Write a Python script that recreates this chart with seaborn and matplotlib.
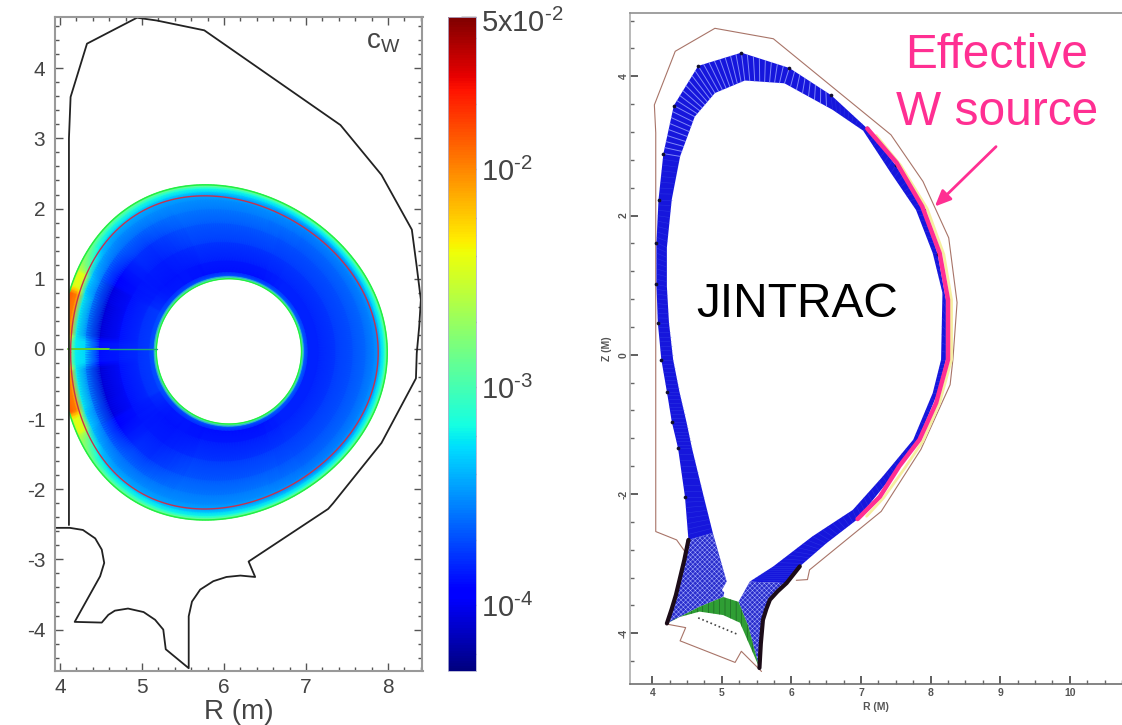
import matplotlib
matplotlib.use("Agg")
import matplotlib.pyplot as plt
from matplotlib.colors import LogNorm
from matplotlib.patches import Rectangle
from matplotlib.transforms import ScaledTranslation
import numpy as np
import seaborn as sns

# left panel: vessel wall
wall_r = [4.11, 4.11, 4.13, 4.33, 4.61, 4.94, 5.18, 5.76, 7.42, 7.92, 8.29, 8.35, 8.40, 8.38, 8.35, 8.34,
          7.92, 7.33, 7.27, 6.30, 6.38, 6.20, 6.03, 5.87, 5.71, 5.61, 5.57, 5.57, 5.29, 5.26, 5.16, 5.02, 4.83,
          4.67, 4.59, 4.51, 4.18, 4.49, 4.54, 4.51, 4.43, 4.28, 4.12, 3.94]
wall_z = [-2.51, 3.00, 3.59, 4.35, 4.52, 4.72, 4.68, 4.54, 3.19, 2.48, 1.70, 1.17, 0.70, 0.32, -0.06, -0.42,
          -1.34, -2.20, -2.28, -3.03, -3.25, -3.23, -3.25, -3.31, -3.43, -3.60, -3.81, -4.55, -4.28, -4.00, -3.86, -3.75, -3.70,
          -3.73, -3.79, -3.90, -3.89, -3.24, -3.05, -2.86, -2.70, -2.58, -2.55, -2.55]

# flux surface shape: R0, a, kappa, Z0, delta
hole_shape = [6.06, 0.885, 1.17, -0.035, 0.0]
edge_shape = [6.0, 1.99, 1.2, -0.05, 0.115]
sep_shape = [6.005, 1.875, 1.19, -0.05, 0.13]

# W concentration along minor radius, for each poloidal sector
rho_stations = [0, 0.012, 0.035, 0.08, 0.2, 0.4, 0.6, 0.75, 0.85, 0.9, 0.93, 0.965, 0.985, 1.0]
c_outboard = [1.5e-3, 1.2e-3, 2.5e-4, 1.5e-4, 1.5e-4, 1.75e-4, 2.05e-4, 2.4e-4, 2.9e-4, 3.3e-4, 5e-4, 7e-4, 1.1e-3, 1.5e-3]
c_crown = [1.5e-3, 1.2e-3, 2.3e-4, 1.3e-4, 1.4e-4, 1.75e-4, 2.2e-4, 2.7e-4, 3.2e-4, 3.6e-4, 5e-4, 7e-4, 1.1e-3, 1.5e-3]
c_shoulder = [1.5e-3, 1.2e-3, 2.2e-4, 1.4e-4, 1.35e-4, 1.45e-4, 1.7e-4, 2.4e-4, 3.2e-4, 3.8e-4, 5.5e-4, 8e-4, 1.1e-3, 1.5e-3]
c_inboard = [1.5e-3, 1.2e-3, 2.2e-4, 1.7e-4, 1.5e-4, 1.3e-4, 1.0e-4, 2.4e-4, 4.5e-4, 6e-4, 9e-4, 1.2e-3, 1.4e-3, 1.6e-3]
c_yellow = [1.5e-3, 1.2e-3, 2.2e-4, 1.8e-4, 1.6e-4, 1.3e-4, 9e-5, 2.8e-4, 5e-4, 3e-3, 3.6e-3, 3.8e-3, 3.4e-3, 3.0e-3]
c_hot = [1.5e-3, 1.2e-3, 2.2e-4, 1.8e-4, 1.6e-4, 1.3e-4, 8.5e-5, 3e-4, 6e-4, 7e-3, 1.1e-2, 1.2e-2, 1.3e-2, 1.3e-2]
c_midplane = [1.5e-3, 1.2e-3, 2.2e-4, 1.8e-4, 1.6e-4, 1.4e-4, 1.3e-4, 5e-4, 6e-4, 1.8e-3, 3e-3, 3e-3, 3.5e-3, 4e-3]
sector_edges = [0, 60, 115, 143, 150, 158, 175]
sector_values = [c_outboard, c_crown, c_shoulder, c_inboard, c_yellow, c_hot, c_midplane]

spike_r = [4.10, 4.30, 4.60]
spike_z = [0.0, 0.0, 0.0]
spike_end_r = [4.60, 5.18]
spike_end_z = [0.0, 0.0]

cbar_labels = {1e-4: r"$\mathregular{10^{\text{-}4}}$", 1e-3: r"$\mathregular{10^{\text{-}3}}$",
               1e-2: r"$\mathregular{10^{\text{-}2}}$", 5e-2: r"$\mathregular{5x10^{\text{-}2}}$"}
cbar_dark = [4e-2, 2e-2, 6e-3, 4e-3, 2e-3, 6e-4, 4e-4, 2e-4, 6e-5]
cbar_faint = [3e-2, 8e-3, 5e-3, 3e-3, 8e-4, 5e-4, 3e-4]

# right panel: wall pieces
wall2_r = [4.50, 4.35, 4.05, 4.05, 4.03, 4.33, 4.90, 5.74, 7.43, 7.89, 8.26, 8.38, 8.32, 8.28, 7.86, 7.29, 6.26, 6.23, 6.07]
wall2_z = [-2.87, -2.66, -2.54, 3.19, 3.59, 4.36, 4.69, 4.54, 3.16, 2.49, 1.68, 0.75, -0.07, -0.43, -1.36, -2.25, -3.09, -3.23, -3.24]
wall3_r = [5.57, 5.28, 5.19, 4.40, 4.48, 4.21]
wall3_z = [-4.55, -4.26, -4.42, -4.11, -3.92, -3.87]

# right panel: edge grid band, outer and inner side
band_out_r = [4.52, 4.47, 4.37, 4.28, 4.21, 4.13, 4.08, 4.06, 4.06, 4.09, 4.16, 4.31, 4.66, 5.28, 5.97, 6.57, 7.08,
              7.50, 7.90, 8.10, 8.22, 8.22, 8.10, 7.80, 7.37, 6.94, 6.50, 6.12, 5.93]
band_out_z = [-2.66, -2.04, -1.34, -0.96, -0.53, -0.07, 0.46, 1.01, 1.61, 2.23, 2.89, 3.58, 4.15, 4.34, 4.12, 3.73, 3.26,
              2.72, 2.08, 1.45, 0.79, -0.07, -0.55, -1.27, -1.84, -2.37, -2.71, -3.04, -3.28]
band_in_r = [4.87, 4.74, 4.57, 4.49, 4.39, 4.30, 4.24, 4.21, 4.21, 4.28, 4.40, 4.61, 4.90, 5.33, 5.90, 6.59, 7.03,
             7.43, 7.79, 8.03, 8.17, 8.15, 8.03, 7.75, 7.31, 6.88, 6.30, 5.74, 5.40]
band_in_z = [-2.56, -2.04, -1.34, -0.96, -0.53, -0.07, 0.46, 0.98, 1.54, 2.23, 2.85, 3.42, 3.76, 3.94, 3.90, 3.52, 3.22,
             2.61, 2.08, 1.46, 0.89, -0.07, -0.55, -1.22, -1.75, -2.23, -2.61, -3.04, -3.26]

left_fan_r = [4.52, 4.87, 5.07, 5.02, 4.68, 4.21, 4.40]
left_fan_z = [-2.66, -2.56, -3.26, -3.48, -3.62, -3.86, -3.20]
right_fan_r = [5.93, 5.40, 5.24, 5.38, 5.54, 5.59, 5.69]
right_fan_z = [-3.28, -3.26, -3.55, -3.90, -4.50, -3.81, -3.52]
green_r = [4.21, 4.68, 5.02, 5.24, 5.38, 5.54, 5.26, 5.02, 4.68, 4.35]
green_z = [-3.86, -3.62, -3.48, -3.55, -3.90, -4.50, -3.85, -3.74, -3.69, -3.78]
xpoint_r = [5.07, 5.20, 5.24, 5.10, 5.00]
xpoint_z = [-3.26, -3.28, -3.42, -3.48, -3.38]
baffle_r = [4.66, 5.21]
baffle_z = [-3.78, -4.01]
left_leg_r = [4.52, 4.46, 4.40, 4.34, 4.28, 4.21]
left_leg_z = [-2.66, -2.95, -3.20, -3.45, -3.65, -3.86]
right_leg_r = [5.54, 5.56, 5.59, 5.64, 5.69, 5.80, 5.93, 6.12]
right_leg_z = [-4.50, -4.15, -3.81, -3.65, -3.52, -3.40, -3.28, -3.04]

source_r = [7.09, 7.51, 7.88, 8.13, 8.25, 8.25, 8.17, 8.08, 7.84, 7.55, 7.27, 6.95]
source_z = [3.25, 2.76, 2.13, 1.46, 0.79, -0.07, -0.36, -0.69, -1.22, -1.60, -2.04, -2.36]
pale_r = [7.22, 7.57, 7.95, 8.19, 8.30, 8.30, 8.22, 8.13, 7.89, 7.62, 7.32, 7.08]
pale_z = [3.15, 2.72, 2.10, 1.44, 0.79, -0.07, -0.36, -0.69, -1.24, -1.64, -2.06, -2.32]

GREY = "#444444"
PINK = "#ff2f92"


def surface(shape, theta):
	r0, a, kappa, z0, delta = shape
	return r0 + a * np.cos(theta + delta * np.sin(theta)), z0 + kappa * a * np.sin(theta)


def draw_line(ax, r, z, color, lw, **kwargs):
	sns.lineplot(x=r, y=z, sort=False, estimator=None, color=color, linewidth=lw, legend=False, ax=ax, **kwargs)


def soften(log_c, width):
	# running mean around the torus, so the sector borders do not show as steps
	kernel = np.ones(width) / width
	wrapped = np.concatenate([log_c[:, -width:], log_c, log_c[:, :width]], axis=1)
	rows = [np.convolve(row, kernel, mode="same") for row in wrapped]
	return np.array(rows)[:, width:-width]


def field_mesh():
	theta_deg = np.arange(-180, 181)
	theta = np.radians(theta_deg)
	xs, zs = [], []
	for rho in rho_stations:
		shape = [(1 - rho) * h + rho * e for h, e in zip(hole_shape, edge_shape)]
		r, z = surface(shape, theta)
		xs.append(r)
		zs.append(z)
	sector = np.searchsorted(sector_edges, np.abs(theta_deg), side="right") - 1
	log_c = np.log10(np.array(sector_values)[sector].T)
	log_c = np.where(np.abs(theta_deg) < 150, soften(log_c, 21), soften(log_c, 3))
	return np.array(xs), np.array(zs), 10 ** log_c


def draw_left(fig):
	ax = fig.add_axes([55 / 1122, 1 - 671 / 725, 367.5 / 1122, 654 / 725])
	xs, zs, c = field_mesh()
	norm = LogNorm(vmin=5e-5, vmax=5e-2)
	mesh = ax.pcolormesh(xs, zs, c, cmap="jet", norm=norm, shading="gouraud")
	clip = Rectangle((4.11, -5), 5, 10, transform=ax.transData)
	mesh.set_clip_path(clip)

	ring = np.radians(np.arange(-180, 181))
	hole_r, hole_z = surface(hole_shape, ring)
	draw_line(ax, hole_r, hole_z, "#22ee44", 1.0)
	edge_r, edge_z = surface(edge_shape, ring)
	keep = edge_r > 4.11
	draw_line(ax, edge_r[keep], edge_z[keep], "#22ee44", 1.1)

	draw_line(ax, spike_r, spike_z, "#60d030", 1.4)
	draw_line(ax, spike_end_r, spike_end_z, "#1aa878", 1.0)
	sep_r, sep_z = surface(sep_shape, ring)
	draw_line(ax, sep_r, sep_z, "#c4324e", 1.0)
	draw_line(ax, wall_r, wall_z, "#222222", 1.3)

	ax.set_xlim(3.94, 8.42)
	ax.set_ylim(-4.59, 4.73)
	ax.set_xticks([4, 5, 6, 7, 8])
	ax.set_yticks([-4, -3, -2, -1, 0, 1, 2, 3, 4])
	ax.set_xticks(np.arange(4, 8.5, 0.2), minor=True)
	ax.set_yticks(np.arange(-4.4, 4.7, 0.2), minor=True)
	ax.tick_params(which="major", direction="in", length=6, width=1, color="#555555", top=True, right=True)
	ax.tick_params(which="minor", direction="in", length=3, width=1, color="#555555", top=True, right=True)
	ax.tick_params(axis="x", which="major", labelsize=15, labelcolor=GREY, pad=5)
	ax.tick_params(axis="y", which="major", labelsize=15, labelcolor=GREY, pad=7)
	ax.set_xlabel("R (m)", fontsize=20, color=GREY)
	ax.xaxis.set_label_coords(0.5, -0.043)
	ax.text(7.94, 4.37, r"$\mathregular{c_W}$", fontsize=20, color=GREY, ha="center", va="center")
	for spine in ax.spines.values():
		spine.set_color("#999999")
		spine.set_linewidth(1.5)

	cax = fig.add_axes([448 / 1122, 1 - 671 / 725, 27.5 / 1122, 654 / 725])
	cb = fig.colorbar(mesh, cax=cax)
	cb.set_ticks(list(cbar_labels), labels=list(cbar_labels.values()))
	cax.yaxis.set_ticks(cbar_dark + cbar_faint, minor=True)
	cax.tick_params(which="major", direction="in", length=11, width=1, color="#333333", labelsize=21,
		labelcolor=GREY, pad=4)
	cax.tick_params(which="minor", direction="in", length=6, width=1, color="#333333")
	for tick, value in zip(cax.yaxis.get_minor_ticks(), cbar_dark + cbar_faint):
		if value in cbar_faint:
			tick.tick2line.set_alpha(0.2)
	top_label = cax.get_yticklabels()[-1]
	top_label.set_transform(top_label.get_transform() + ScaledTranslation(0, -0.03, fig.dpi_scale_trans))
	cb.outline.set_edgecolor("#b0b0d0")
	cb.outline.set_linewidth(0.6)


def draw_right(fig):
	ax = fig.add_axes([630 / 1122, 1 - 684 / 725, 492 / 1122, 671 / 725])

	draw_line(ax, wall2_r, wall2_z, "#a87468", 0.8)
	draw_line(ax, wall3_r, wall3_z, "#a87468", 0.8)

	plt.rcParams["hatch.linewidth"] = 0.35
	ax.fill(band_out_r + band_in_r[::-1], band_out_z + band_in_z[::-1], color="#1616dc", lw=0, zorder=3)
	ax.fill(left_fan_r, left_fan_z, facecolor="#2a2ecc", edgecolor="#a8b0ff", hatch="xxxxxxx", lw=0, zorder=3)
	ax.fill(right_fan_r, right_fan_z, facecolor="#2a2ecc", edgecolor="#a8b0ff", hatch="xxxxxxx", lw=0, zorder=3)
	ax.fill(green_r, green_z, facecolor="#2f9e34", edgecolor="#174f1e", hatch="|||", lw=0, zorder=5)
	ax.fill(xpoint_r, xpoint_z, color="white", lw=0, zorder=6)

	# grid cells across the band, opened up on the upper left where the mesh is coarse
	for i in range(len(band_out_r) - 1):
		for t in np.linspace(0, 1, 9)[:-1]:
			ro = band_out_r[i] + t * (band_out_r[i + 1] - band_out_r[i])
			zo = band_out_z[i] + t * (band_out_z[i + 1] - band_out_z[i])
			ri = band_in_r[i] + t * (band_in_r[i + 1] - band_in_r[i])
			zi = band_in_z[i] + t * (band_in_z[i + 1] - band_in_z[i])
			coarse = 10 <= i <= 14
			ax.plot([ro, ri], [zo, zi], color="#9aa4ff" if coarse else "#3c4ce8",
				lw=0.7 if coarse else 0.4, alpha=0.8 if coarse else 0.5, zorder=5)
	ax.scatter(band_out_r[:20], band_out_z[:20], s=7, color="#101030", lw=0, zorder=7)

	draw_line(ax, left_leg_r, left_leg_z, "#1c0c18", 3.0, zorder=7)
	draw_line(ax, right_leg_r, right_leg_z, "#1c0c18", 3.0, zorder=7)
	draw_line(ax, baffle_r, baffle_z, "#444444", 1.2, linestyle=":", zorder=7)

	draw_line(ax, pale_r, pale_z, "#f6efa0", 2.0, zorder=8)
	draw_line(ax, source_r, source_z, PINK, 3.2, zorder=9)

	ax.text(8.95, 4.12, "Effective", color=PINK, fontsize=34.5, ha="center", va="baseline")
	ax.text(8.96, 3.30, "W source", color=PINK, fontsize=34.5, ha="center", va="baseline")
	ax.text(6.08, 0.546, "JINTRAC", color="black", fontsize=34.5, ha="center", va="baseline", zorder=10)
	ax.annotate("", xy=(8.06, 2.13), xytext=(8.94, 2.99),
		arrowprops=dict(arrowstyle="-|>,head_length=0.8,head_width=0.35", color=PINK, lw=2.0, shrinkA=0, shrinkB=0))

	ax.set_xlim(3.68, 10.74)
	ax.set_ylim(-4.73, 4.91)
	ax.set_xticks([4, 5, 6, 7, 8, 9, 10])
	ax.set_yticks([-4, -2, 0, 2, 4])
	ax.set_xticks(np.arange(4, 10.8, 0.25), minor=True)
	ax.set_yticks(np.arange(-4.4, 4.9, 0.4), minor=True)
	ax.tick_params(which="major", direction="in", length=6, width=1.2, color="#444444", labelsize=7.5,
		labelcolor="#555555", pad=3)
	ax.tick_params(axis="y", which="major", pad=1)
	ax.tick_params(which="minor", direction="in", length=3, width=1, color="#666666")
	for label in ax.get_yticklabels():
		label.set_rotation(90)
		label.set_va("center")
		label.set_fontweight("bold")
	for label in ax.get_xticklabels():
		label.set_fontweight("bold")
	ax.set_xlabel("R (M)", fontsize=7.5, color="#555555", fontweight="bold", labelpad=3)
	ax.set_ylabel("Z (M)", fontsize=7.5, color="#555555", fontweight="bold", labelpad=5)
	ax.spines["right"].set_visible(False)
	ax.spines["left"].set_color("#b0b0b0")
	ax.spines["top"].set_color("#909090")
	ax.spines["bottom"].set_color("#707070")
	ax.spines["top"].set_linewidth(1.2)
	ax.spines["bottom"].set_linewidth(1.2)


def main():
	sns.set_theme(style="ticks")
	plt.rcParams["font.family"] = ["Liberation Sans", "DejaVu Sans"]
	plt.rcParams["mathtext.fontset"] = "custom"
	plt.rcParams["mathtext.rm"] = "Liberation Sans"
	plt.rcParams["mathtext.it"] = "Liberation Sans:italic"
	plt.rcParams["axes.unicode_minus"] = False

	fig = plt.figure(figsize=(11.22, 7.25), dpi=100)
	draw_left(fig)
	draw_right(fig)
	fig.savefig("out.png", dpi=100)
	plt.close(fig)


if __name__ == "__main__":
	main()
